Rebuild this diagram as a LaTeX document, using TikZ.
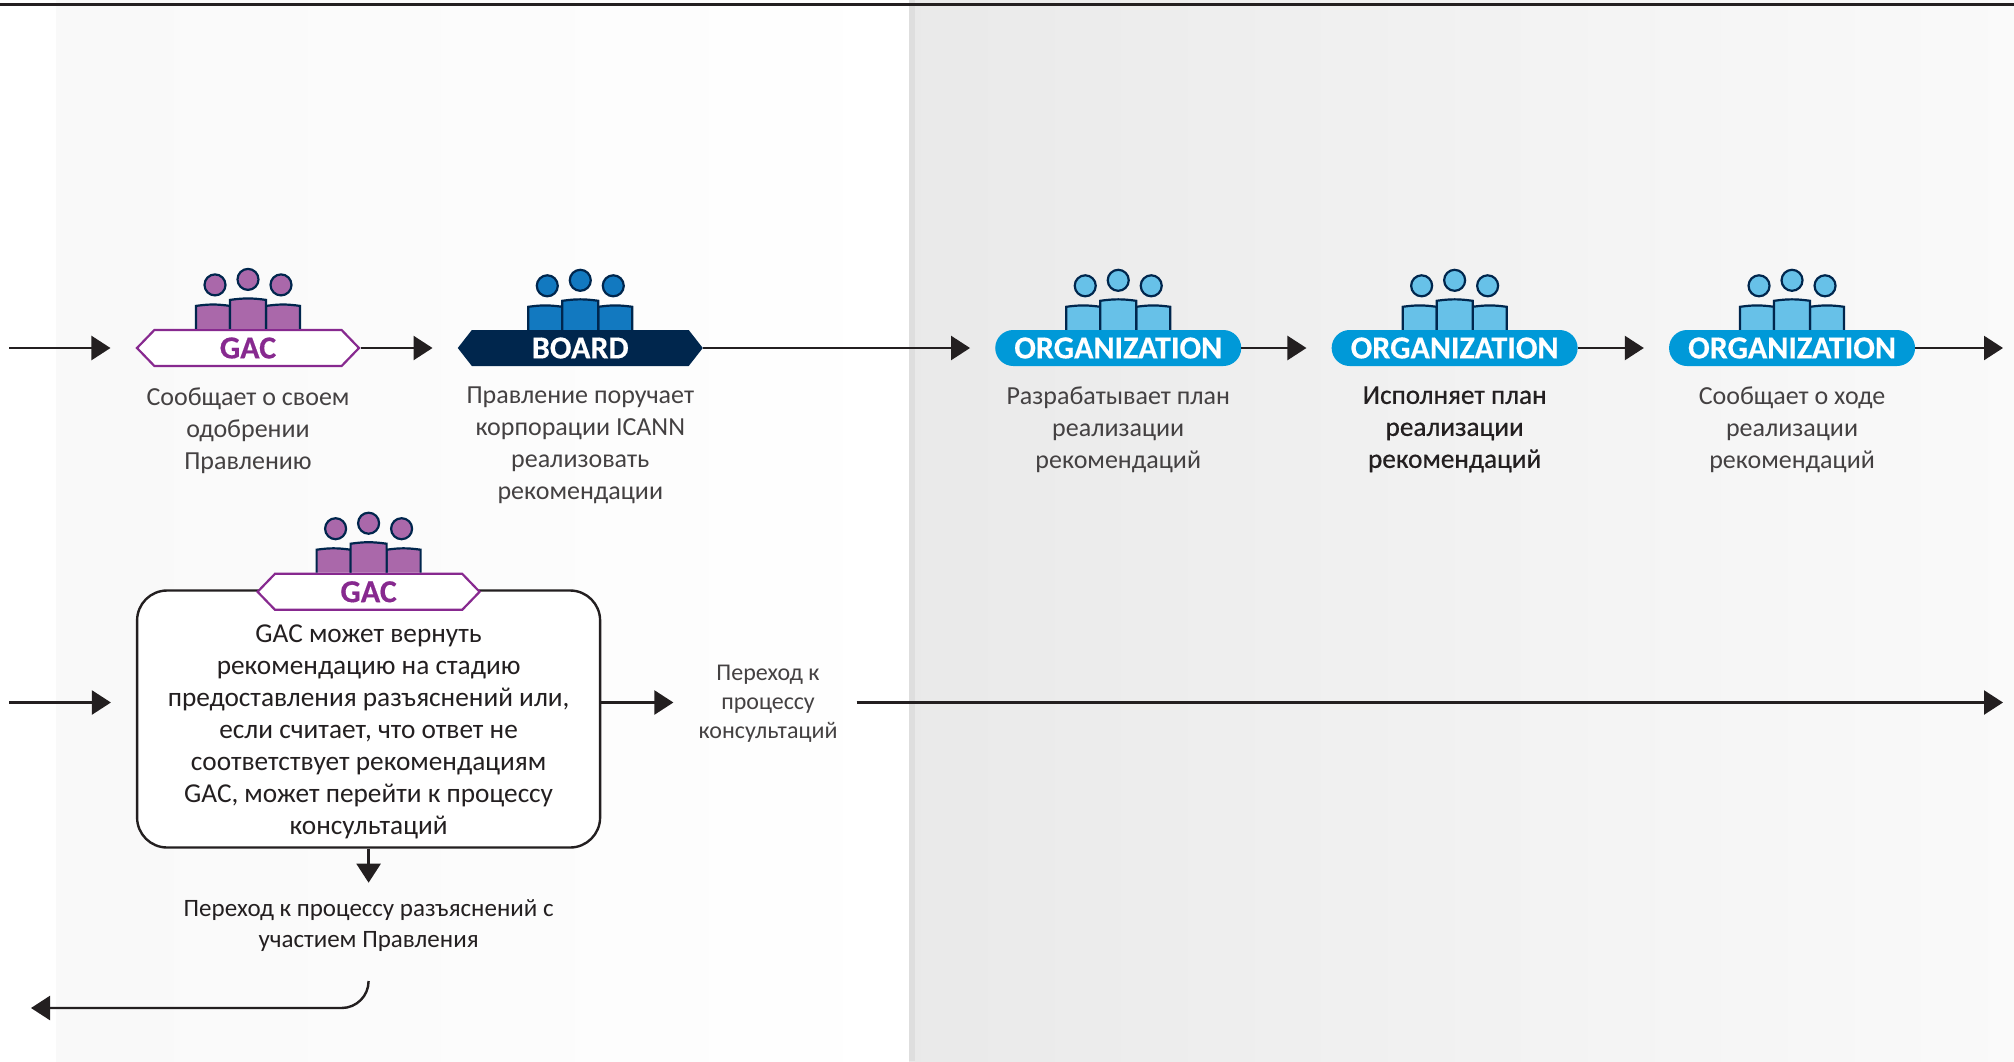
\documentclass[tikz,border=0pt]{standalone}
\usepackage{fontspec}
\setmainfont{Carlito}
\newfontfamily\badgefont{Carlito}[BoldFont=Carlito Bold, BoldFeatures={FakeBold=0.4}]
\definecolor{colink}{HTML}{231F20}
\definecolor{colnavy}{HTML}{00264D}
\definecolor{colgac}{HTML}{87298F}
\definecolor{colgaclight}{HTML}{AA68AA}
\definecolor{colboardlight}{HTML}{1279C0}
\definecolor{colorg}{HTML}{0099D8}
\definecolor{colorglight}{HTML}{67C1E8}
\usetikzlibrary{
	arrows.meta,
	positioning,
	shapes.misc,
	shapes.symbols
}
\tikzset{
	>={Triangle[length=19pt,width=24pt]},
	flow/.style={->, line width=2.4pt, color=colink},
	gapflow/.style={flow, shorten >=25pt},
	badge/.style={minimum height=36pt, inner sep=0pt, font=\badgefont\fontsize{32}{32}\selectfont\bfseries},
	gacbadge/.style={badge, signal, signal to=west and east, signal pointer angle=92, draw=colgac, line width=2.2pt, fill=white, text=colgac, minimum width=222pt},
	boardbadge/.style={badge, signal, signal to=west and east, signal pointer angle=104, fill=colnavy, text=white, minimum width=245pt},
	orgbadge/.style={badge, rounded rectangle, fill=colorg, text=white, minimum width=246pt},
	steptext/.style={align=center, inner sep=0pt, color=colink!85, font=\fontsize{26}{32}\selectfont},
	boldtext/.style={steptext, color=colink, font=\addfontfeature{FakeBold=0.6}\fontsize{27.2}{32}\selectfont},
	boxtext/.style={align=center, inner sep=0pt, color=colink, font=\fontsize{27.3}{32}\selectfont},
	returnbox/.style={draw=colink, line width=2.4pt, rounded corners=30pt, fill=white, minimum width=463pt, minimum height=257pt},
	pics/people/.style={code={
		\draw[persondraw, pic actions] (-52,0) -- (-52,-23) to[bend left=8] (-18,-23) -- (-18,0);
		\draw[persondraw, pic actions] (52,0) -- (52,-23) to[bend right=8] (18,-23) -- (18,0);
		\draw[persondraw, pic actions] (-18,0) -- (-18,-29) to[bend left=8] (18,-29) -- (18,0);
		\draw[persondraw, pic actions] (-33,-44) circle (10.5pt);
		\draw[persondraw, pic actions] (0,-49.5) circle (10.5pt);
		\draw[persondraw, pic actions] (33,-44) circle (10.5pt);
	}},
	persondraw/.style={draw=colnavy, line width=2.2pt}
}

\begin{document}
\begin{tikzpicture}[x=1pt, y=-1pt]
	\useasboundingbox (0,0) rectangle (2014,1061);

	% panels
	\shade[left color=black!2.5, right color=white] (56,0) rectangle (909,1061);
	\shade[left color=black!8.5, right color=black!2] (909,0) rectangle (2014,1061);
	\fill[black!13] (909,0) rectangle (915,1061);
	\draw[line width=3pt, color=colink] (0,4) -- (2014,4);

	% first row
	\node[gacbadge] (gac1) at (248,348) {GAC};
	\node[boardbadge] (board) [right=97pt of gac1] {BOARD};
	\node[orgbadge] (org1) [right=292pt of board] {ORGANIZATION};
	\node[orgbadge] (org2) [right=90pt of org1] {ORGANIZATION};
	\node[orgbadge] (org3) [right=91pt of org2] {ORGANIZATION};

	\pic[fill=colgaclight] at (gac1.north) {people};
	\pic[fill=colboardlight] at (board.north) {people};
	\pic[fill=colorglight] at (org1.north) {people};
	\pic[fill=colorglight] at (org2.north) {people};
	\pic[fill=colorglight] at (org3.north) {people};

	\node[steptext] (gac1text) [below=20pt of gac1] {Сообщает о своем\\одобрении\\Правлению};
	\node[steptext] (boardtext) [below=20pt of board] {Правление поручает\\корпорации ICANN\\реализовать\\рекомендации};
	\node[steptext] (org1text) [below=20pt of org1] {Разрабатывает план\\реализации\\рекомендаций};
	\node[boldtext] (org2text) [below=20pt of org2] {Исполняет план\\реализации\\рекомендаций};
	\node[steptext] (org3text) [below=20pt of org3] {Сообщает о ходе\\реализации\\рекомендаций};

	\coordinate (in1) at (9,348);
	\coordinate (out1) at (2003,348);
	\draw[gapflow] (in1) -- (gac1.west);
	\draw[gapflow] (gac1.east) -- (board.west);
	\draw[gapflow] (board.east) -- (org1.west);
	\draw[gapflow] (org1.east) -- (org2.west);
	\draw[gapflow] (org2.east) -- (org3.west);
	\draw[flow] (org3.east) -- (out1);

	% second row
	\node[returnbox] (box) at (368.6,719) {};
	\node[gacbadge, yshift=-2.5pt] (gac2) at (box.north) {GAC};
	\pic[fill=colgaclight] at (gac2.north) {people};
	\node[boxtext] (gac2text) [below=13.5pt of gac2] {GAC может вернуть\\рекомендацию на стадию\\предоставления разъяснений или,\\если считает, что ответ не\\соответствует рекомендациям\\GAC, может перейти к процессу\\консультаций};

	\coordinate (in2) at (9,702.5);
	\coordinate (out2) at (2003,702.5);
	\node[steptext, font=\fontsize{24}{29}\selectfont, inner xsep=19pt] (consult) at (768,704) {Переход к\\процессу\\консультаций};
	\node[boxtext, font=\fontsize{25}{30.5}\selectfont, inner ysep=17pt] (clarify) [below=34pt of box] {Переход к процессу разъяснений с\\участием Правления};

	\draw[gapflow] (in2) -- (box.west |- in2);
	\draw[flow, shorten >=6pt] (box.east |- in2) -- (consult.west |- in2);
	\draw[flow] (consult.east |- out2) -- (out2);
	\draw[flow] (box.south) -- (clarify.north);

	\coordinate (turn) at (368.6,981);
	\coordinate (back) at (31,1008);
	\draw[flow, rounded corners=27pt] (turn) |- (back);
\end{tikzpicture}
\end{document}
